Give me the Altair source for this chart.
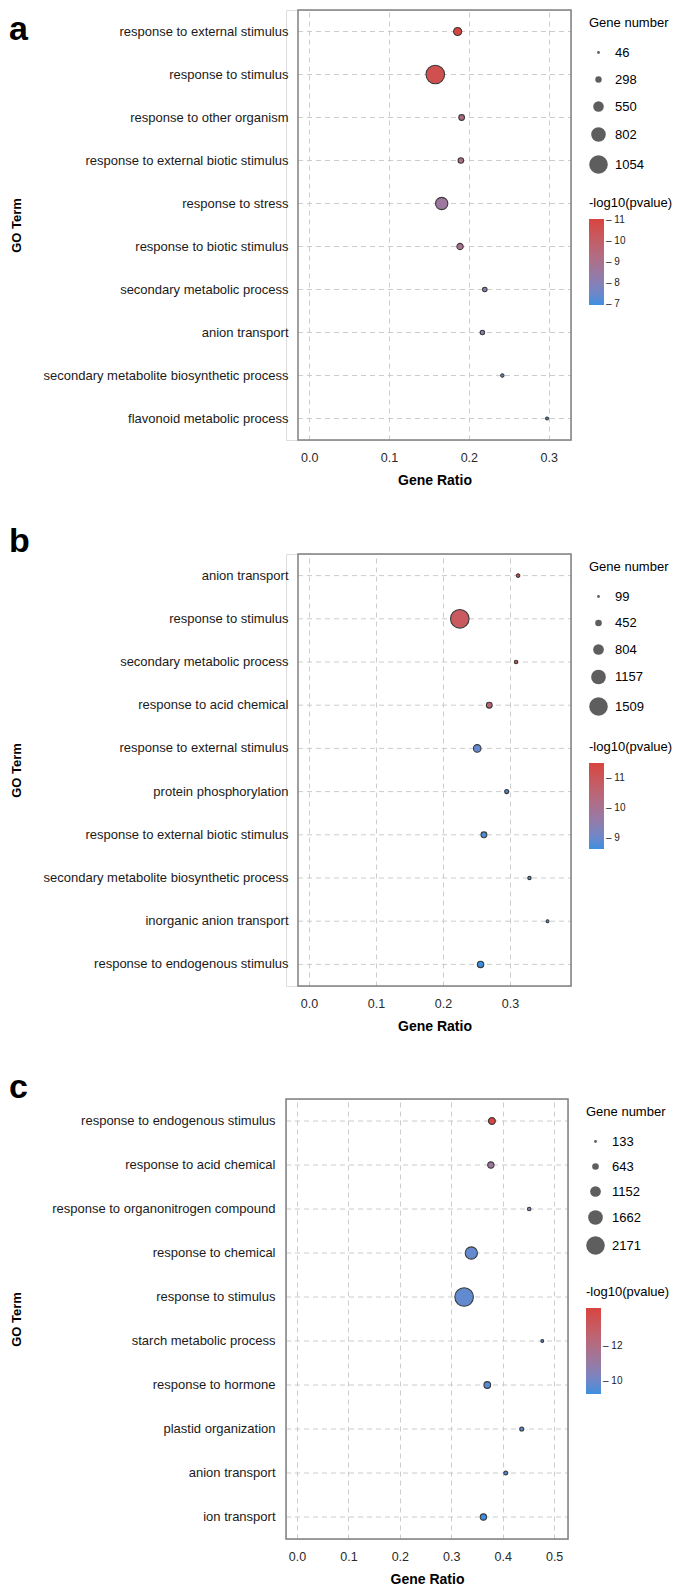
import altair as alt
import pandas as pd

FONT = "Liberation Sans"

# ---------------- data ----------------
a_terms = ["response to external stimulus", "response to stimulus", "response to other organism",
           "response to external biotic stimulus", "response to stress", "response to biotic stimulus",
           "secondary metabolic process", "anion transport",
           "secondary metabolite biosynthetic process", "flavonoid metabolic process"]
a_ratio = [0.186, 0.158, 0.191, 0.190, 0.166, 0.189, 0.220, 0.217, 0.242, 0.298]
a_genes = [400, 1054, 250, 240, 660, 290, 175, 170, 96, 46]
a_logp = [11.05, 10.6, 9.25, 9.2, 8.6, 9.0, 8.2, 8.0, 7.55, 6.95]
a_size_breaks = [46, 298, 550, 802, 1054]
a_color_breaks = [7, 8, 9, 10, 11]
a_xticks = [0.0, 0.1, 0.2, 0.3]

b_terms = ["anion transport", "response to stimulus", "secondary metabolic process",
           "response to acid chemical", "response to external stimulus", "protein phosphorylation",
           "response to external biotic stimulus", "secondary metabolite biosynthetic process",
           "inorganic anion transport", "response to endogenous stimulus"]
b_ratio = [0.312, 0.225, 0.309, 0.269, 0.251, 0.295, 0.261, 0.329, 0.356, 0.256]
b_genes = [170, 1509, 160, 380, 530, 220, 380, 150, 99, 430]
b_logp = [11.45, 10.9, 11.2, 10.6, 8.95, 8.8, 8.75, 8.75, 8.7, 8.64]
b_size_breaks = [99, 452, 804, 1157, 1509]
b_color_breaks = [9, 10, 11]
b_xticks = [0.0, 0.1, 0.2, 0.3]

c_terms = ["response to endogenous stimulus", "response to acid chemical",
           "response to organonitrogen compound", "response to chemical", "response to stimulus",
           "starch metabolic process", "response to hormone", "plastid organization",
           "anion transport", "ion transport"]
c_ratio = [0.379, 0.377, 0.4515, 0.339, 0.325, 0.477, 0.370, 0.437, 0.406, 0.3625]
c_genes = [680, 610, 235, 1350, 2171, 133, 650, 310, 300, 600]
c_logp = [14.2, 11.3, 10.75, 9.8, 9.75, 9.55, 9.55, 9.45, 9.4, 9.26]
c_size_breaks = [133, 643, 1152, 1662, 2171]
c_color_breaks = [10, 12]
c_xticks = [0.0, 0.1, 0.2, 0.3, 0.4, 0.5]

LOW = "#3a8fe0"
HIGH = "#d8443f"
GRID = "#cccccc"


def panel(letter, terms, ratio, genes, logp, size_breaks, color_breaks, xticks,
          xdomain, cdomain, x0, W, H, letter_y, label_pad, row_pad):
    df = pd.DataFrame({"term": terms, "ratio": ratio, "genes": genes, "logp": logp})

    xscale = alt.Scale(domain=xdomain, range=[x0, W], nice=False, zero=False)
    xaxis = alt.Axis(values=xticks, format=".1f", title="Gene Ratio",
                     grid=True, gridDash=[5, 4], gridColor=GRID, gridWidth=1,
                     ticks=False, tickSize=0, domain=False,
                     labelFont=FONT, labelFontSize=12.5, labelColor="#2a2a2a",
                     labelPadding=11, labelFlush=False,
                     titleFont=FONT, titleFontSize=14, titleFontWeight="bold",
                     titleColor="#000000", titlePadding=10,
                     titleX=(x0 + W) / 2, titleAlign="center")
    yaxis = alt.Axis(title="GO Term", grid=False,
                     ticks=False, tickSize=0, domain=False,
                     labelFont=FONT, labelFontSize=13, labelColor="#1a1a1a",
                     labelPadding=label_pad, labelLimit=400,
                     titleFont=FONT, titleFontSize=13, titleFontWeight="bold",
                     titleColor="#000000", titleX=-270, titleY=H / 2,
                     titleBaseline="middle", titleAlign="center", titleAngle=270)
    yenc = alt.Y("term:N", sort=terms, axis=yaxis)

    # horizontal dashed grid lines, spanning the x scale's domain
    grid_h = alt.Chart(df).mark_rule(
        strokeDash=[5, 4], color=GRID, strokeWidth=1
    ).encode(
        y=yenc,
        x=alt.datum(xdomain[0], scale=xscale, axis=xaxis),
        x2=alt.datum(xdomain[1]),
    )

    # panel frame, spanning the x scale's domain
    frame = alt.Chart(pd.DataFrame({"k": [0]})).mark_rect(
        fillOpacity=0, stroke="#808080", strokeWidth=1.5
    ).encode(
        x=alt.datum(xdomain[0], scale=xscale, axis=xaxis),
        x2=alt.datum(xdomain[1]),
        y=alt.value(0), y2=alt.value(H),
    )

    pts = alt.Chart(df).mark_circle(
        stroke="#3a3a3a", strokeWidth=1.1, opacity=1
    ).encode(
        x=alt.X("ratio:Q", scale=xscale, axis=xaxis),
        y=yenc,
        size=alt.Size("genes:Q",
                      scale=alt.Scale(type="pow", exponent=1.8, zero=False,
                                      domain=[size_breaks[0], size_breaks[-1]],
                                      range=[8, 345]),
                      legend=alt.Legend(values=size_breaks, title="Gene number", format="d",
                                        orient="none", legendX=W + 18, legendY=7,
                                        direction="vertical",
                                        titleFont=FONT, titleFontSize=13, titleFontWeight="normal",
                                        titleColor="#000000", titlePadding=16,
                                        labelFont=FONT, labelFontSize=13, labelColor="#000000",
                                        labelOffset=7,
                                        symbolFillColor="#5e5e5e", symbolStrokeColor="#5e5e5e",
                                        symbolStrokeWidth=0, symbolOpacity=1,
                                        rowPadding=row_pad, padding=0)),
        color=alt.Color("logp:Q",
                        scale=alt.Scale(domain=cdomain, range=[LOW, HIGH], interpolate="lab"),
                        legend=alt.Legend(values=color_breaks, title="-log10(pvalue)",
                                          orient="none", legendX=W + 18, legendY=187,
                                          direction="vertical",
                                          gradientLength=86, gradientThickness=15,
                                          gradientStrokeWidth=0,
                                          titleFont=FONT, titleFontSize=13, titleFontWeight="normal",
                                          titleColor="#000000", titlePadding=9,
                                          labelFont=FONT, labelFontSize=10, labelColor="#222222",
                                          labelOffset=2, labelOverlap=False,
                                          labelExpr="'\u2013 ' + datum.label",
                                          padding=0)),
    )

    lab = alt.Chart(pd.DataFrame({"lab": [letter]})).mark_text(
        font=FONT, fontSize=34, fontWeight="bold", align="left", baseline="alphabetic",
        color="#000000"
    ).encode(text="lab:N", x=alt.value(-277), y=alt.value(letter_y))

    return alt.layer(grid_h, frame, pts, lab).properties(width=W, height=H).resolve_scale(
        color="independent", size="independent"
    )


pa = panel("a", a_terms, a_ratio, a_genes, a_logp, a_size_breaks, a_color_breaks, a_xticks,
           [-0.014, 0.328], [6.95, 11.05], 12, 285, 430, 30, -2, 13)
pb = panel("b", b_terms, b_ratio, b_genes, b_logp, b_size_breaks, b_color_breaks, b_xticks,
           [-0.0165, 0.391], [8.64, 11.5], 12, 285, 432, -2, -2, 12.5)
pc = panel("c", c_terms, c_ratio, c_genes, c_logp, c_size_breaks, c_color_breaks, c_xticks,
           [-0.0214, 0.527], [9.26, 14.2], 0, 282, 440, -1, 11, 11)

chart = alt.vconcat(pa, pb, pc, spacing=36).resolve_scale(
    x="independent", y="independent", color="independent", size="independent"
).resolve_legend(
    color="independent", size="independent"
).properties(
    padding=0
).configure_view(
    stroke=None, strokeWidth=0
).configure(
    font=FONT
)

chart.save("out.html", embed_options={"renderer": "svg", "actions": False})
